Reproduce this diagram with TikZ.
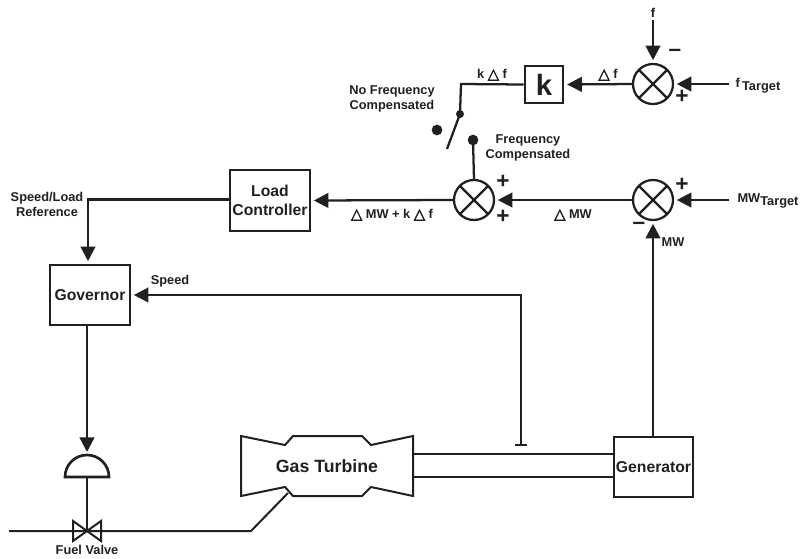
\documentclass[tikz,border=0pt]{standalone}
\usepackage{fontspec}
\setmainfont{Liberation Sans}
\newfontfamily\symfont[FakeBold=3]{DejaVu Sans}
\newcommand{\dtri}{{\symfont\fontsize{11}{11}\selectfont △}}
\usetikzlibrary{arrows.meta}
\tikzset{
    wire/.style={line width=1.7pt, color=linecol},
    flow/.style={wire, -{Triangle[length=11pt,width=11pt]}, shorten >=2pt},
    blockbox/.style={draw=linecol, line width=1.7pt, rectangle, inner sep=0pt, align=center, text=linecol, font=\bfseries\fontsize{11.8}{14.5}\selectfont},
    sumnode/.style={draw=linecol, line width=1.7pt, circle, inner sep=0pt, minimum size=30pt, path picture={
        \draw[line width=1.7pt, color=linecol] (path picture bounding box.north west) -- (path picture bounding box.south east);
        \draw[line width=1.7pt, color=linecol] (path picture bounding box.north east) -- (path picture bounding box.south west);}},
    dotnode/.style={circle, fill=linecol, inner sep=0pt, minimum size=#1},
    lab/.style={inner sep=0pt, align=center, text=linecol, font=\bfseries\fontsize{9.6}{11.2}\selectfont},
    sign/.style={inner sep=0pt, text=linecol, font=\bfseries\fontsize{17}{17}\selectfont}
}
\definecolor{linecol}{HTML}{231F20}
\begin{document}
\begin{tikzpicture}[x=0.75pt,y=-0.75pt]
    \useasboundingbox (0,0) rectangle (801,558);
    % blocks
    \node[blockbox, minimum width=60pt, minimum height=45.5pt] (load) at (270,200.5) {Load\\Controller};
    \node[blockbox, minimum width=60pt, minimum height=45pt] (gov) at (90,295) {Governor};
    \node[blockbox, minimum width=59.5pt, minimum height=45pt] (gen) at (653.5,467) {Generator};
    \node[blockbox, minimum width=29pt, minimum height=28pt, font=\bfseries\fontsize{22}{22}\selectfont] (kbox) at (544,84.5) {k};
    \node[sumnode] (sumf) at (653,84) {};
    \node[sumnode] (summw) at (653,200) {};
    \node[sumnode] (sumall) at (474,200) {};

    % gas turbine outline
    \draw[line width=1.5pt, color=linecol, line join=miter] (241,436) -- (285,445) -- (293,436) -- (362,436) -- (371,445) -- (413,436) -- (413,496) -- (371,487) -- (362,496) -- (293,496) -- (285,487) -- (241,496) -- cycle;
    \node[lab, font=\bfseries\fontsize{13.3}{15}\selectfont] (gt) at (327,466) {Gas Turbine};
    \coordinate (shafta) at (413,453.5);
    \coordinate (shaftb) at (413,477);
    \draw[line width=1.5pt, color=linecol] (shafta) -- (shafta -| gen.west);
    \draw[line width=1.5pt, color=linecol] (shaftb) -- (shaftb -| gen.west);

    % free ends
    \coordinate (fin) at (653,20);
    \coordinate (ftarget) at (729,84);
    \coordinate (mwtarget) at (729,200);
    \coordinate (kcorner) at (461,84);
    \node[dotnode=8pt] (nofreq) at (437,130) {};
    \node[dotnode=8pt] (freq) at (473,140) {};
    \node[dotnode=6pt] (pivot) at (460,114) {};
    \coordinate (swtip) at (447,149);
    \coordinate (tbar) at (521,445);
    \coordinate (tbarl) at (515,445);
    \coordinate (tbarr) at (527,445);
    \coordinate (speedcorner) at (521,295);
    \coordinate (refcorner) at (88,199.5);

    % signals
    \draw[flow] (fin) -- (sumf.north);
    \draw[flow] (ftarget) -- (sumf.east);
    \draw[flow] (mwtarget) -- (summw.east);
    \draw[flow] (sumf.west) -- (kbox.east);
    \draw[flow] (summw.west) -- (sumall.east);
    \draw[flow] (sumall.west) -- (load.east);
    \draw[flow] (gen.north -| summw) -- (summw.south);
    \draw[wire, line join=miter] (kbox.west) -- (kcorner) -- (pivot.center);
    \draw[wire] (pivot.center) -- (swtip);
    \draw[wire] (freq.center) -- (sumall.center |- sumall.north);
    \draw[flow] (load.west |- refcorner) -- (refcorner) -- (refcorner |- gov.north);
    \draw[flow] (tbar) -- (speedcorner) -- (gov.east |- speedcorner);
    \draw[wire] (tbarl) -- (tbarr);

    % fuel line, valve and actuator
    \coordinate (linestart) at (9,531);
    \coordinate (linebend) at (251,531);
    \coordinate (lineend) at (288,493);
    \draw[line width=1.5pt, color=linecol, line join=miter] (linestart) -- (linebend) -- (lineend);
    \coordinate (valve) at (87,531);
    \draw[line width=1.5pt, color=linecol, line join=miter] (73,521) -- (101,541) -- (101,521) -- (73,541) -- cycle;
    \coordinate (act) at (87,477);
    \draw[line width=2pt, color=linecol, fill=white] (65,477) arc[start angle=180, end angle=0, radius=16.5pt] -- cycle;
    \draw[wire, line width=1.5pt] (act) -- (valve);
    \draw[flow, shorten >=0pt] (gov.south -| act) -- (87,452);

    % labels
    \node[lab] (flab) at (653,13) {f};
    \node[lab] (ftlab) at (758,86) {\raisebox{2pt}{f}\,Target};
    \node[lab] (mwtlab) at (768,201) {\raisebox{2pt}{MW}Target};
    \node[lab] (klab) at (492,75) {k \dtri{} f};
    \node[lab] (dflab) at (608,75) {\dtri{} f};
    \node[lab] (nolab) at (392,99) {No Frequency\\Compensated};
    \node[lab] (fclab) at (528,148) {Frequency\\Compensated};
    \node[lab] (sumlab) at (392,215) {\dtri{} MW + k \dtri{} f};
    \node[lab] (dmwlab) at (573,215) {\dtri{} MW};
    \node[lab] (mwlab) at (673,242) {MW};
    \node[lab] (speedlab) at (170,281) {Speed};
    \node[lab] (reflab) at (47,204) {Speed/Load\\Reference};
    \node[lab] (fuellab) at (87,550) {Fuel Valve};

    % signs
    \node[sign] (s1) at (675,53) {–};
    \node[sign] (s2) at (682,97) {+};
    \node[sign] (s3) at (682,185) {+};
    \node[sign] (s4) at (639,226) {–};
    \node[sign] (s5) at (503,182) {+};
    \node[sign] (s6) at (503,217) {+};
\end{tikzpicture}
\end{document}
